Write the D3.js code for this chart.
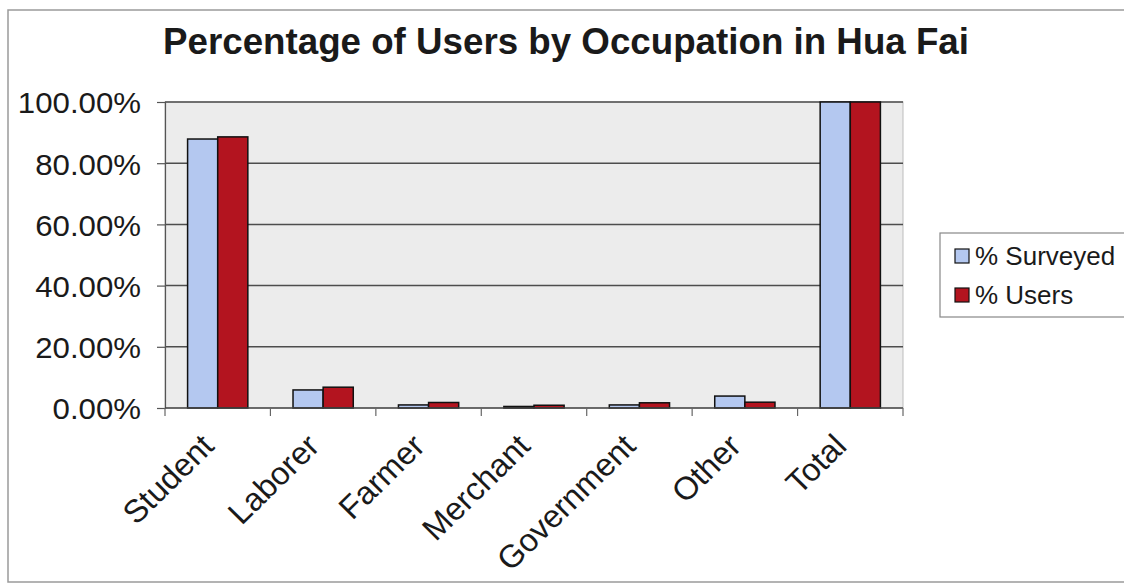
<!DOCTYPE html>
<html>
<head>
<meta charset="utf-8">
<script src="https://cdn.jsdelivr.net/npm/d3@7"></script>
<style>
  html, body { margin: 0; padding: 0; background: #fff; }
  svg { display: block; }
  text { font-family: "Liberation Sans", Arial, sans-serif; fill: #1a1a1a; }
</style>
</head>
<body>
<svg id="chart" width="1124" height="587"></svg>
<script>
// Occupation categories and the two percentage series
const categories = ["Student", "Laborer", "Farmer", "Merchant", "Government", "Other", "Total"];
const surveyed = [87.9, 5.9, 1.0, 0.5, 1.0, 3.9, 100.0];
const users = [88.6, 6.8, 1.8, 0.9, 1.7, 1.9, 100.0];
const seriesNames = ["% Surveyed", "% Users"];
const yTicks = [0, 20, 40, 60, 80, 100];

const colors = ["#b4c8f0", "#b3141f"];

const svg = d3.select("#chart");
const W = 1124, H = 587;
const plot = { left: 165, right: 903, top: 102, bottom: 408 };
const sx = 1.08; // horizontal text stretch for axis labels

// Outer chart frame
svg.append("rect")
  .attr("x", 8).attr("y", 10).attr("width", W + 4).attr("height", 572)
  .attr("fill", "#fff").attr("stroke", "#9a9a9a").attr("stroke-width", 1.5);

// Title
svg.append("text")
  .attr("transform", `translate(566,54) scale(1.02,1)`)
  .attr("text-anchor", "middle")
  .style("font-weight", "bold").style("font-size", "36px")
  .text("Percentage of Users by Occupation in Hua Fai");

const x0 = d3.scaleBand().domain(categories).range([plot.left, plot.right]).paddingInner(0).paddingOuter(0);
// Each bar takes 1/3.5 of a category (gap width 150%)
const barW = x0.bandwidth() / 3.5;
const y = d3.scaleLinear().domain([0, 100]).range([plot.bottom, plot.top]);

// Plot area background
svg.append("rect")
  .attr("x", plot.left).attr("y", plot.top)
  .attr("width", plot.right - plot.left).attr("height", plot.bottom - plot.top)
  .attr("fill", "#ececec").attr("stroke", "#bdbdbd").attr("stroke-width", 1);

// Horizontal gridlines
svg.append("g").selectAll("line").data(yTicks.slice(1)).join("line")
  .attr("x1", plot.left).attr("x2", plot.right)
  .attr("y1", d => y(d)).attr("y2", d => y(d))
  .attr("stroke", "#4d4d4d").attr("stroke-width", 1.5);

// Y axis
const yAxis = d3.axisLeft(y).tickValues(yTicks).tickSize(8).tickPadding(16)
  .tickFormat(d => d.toFixed(2) + "%");
const gy = svg.append("g").attr("transform", `translate(${plot.left},0)`).call(yAxis);
gy.select(".domain").attr("stroke", "#555").attr("stroke-width", 1.2);
gy.selectAll(".tick line").attr("stroke", "#555").attr("stroke-width", 1.2);
gy.selectAll(".tick text")
  .style("font-size", "30px").attr("fill", "#1a1a1a")
  .attr("dy", "0.36em")
  .each(function() {
    const t = d3.select(this);
    const xPos = +t.attr("x");
    t.attr("x", null).attr("transform", `translate(${xPos},0) scale(1.04,1)`);
  });

// Bars
const series = [surveyed, users];
const gBars = svg.append("g");
series.forEach((vals, si) => {
  gBars.append("g").selectAll("rect").data(categories).join("rect")
    .attr("x", c => x0(c) + barW * 0.75 + si * barW)
    .attr("y", (c, i) => y(vals[i]))
    .attr("width", barW)
    .attr("height", (c, i) => y(0) - y(vals[i]))
    .attr("fill", colors[si])
    .attr("stroke", "#111").attr("stroke-width", 1.5);
});

// X axis with ticks between categories
const gx = svg.append("g").attr("transform", `translate(0,${plot.bottom})`);
gx.append("line").attr("x1", plot.left).attr("x2", plot.right)
  .attr("stroke", "#444").attr("stroke-width", 1.5);
const boundaries = categories.map(c => x0(c)).concat([plot.right]);
gx.selectAll("line.tk").data(boundaries).join("line").attr("class", "tk")
  .attr("x1", d => d).attr("x2", d => d).attr("y1", 0).attr("y2", 8)
  .attr("stroke", "#666").attr("stroke-width", 1.2);
gx.selectAll("text").data(categories).join("text")
  .attr("transform", c => `translate(${x0(c) + x0.bandwidth() / 2 - 2},${40}) scale(1.02,1) rotate(-45)`)
  .attr("text-anchor", "end")
  .style("font-size", "32px")
  .text(c => c);

// Legend
const lg = svg.append("g");
lg.append("rect").attr("x", 940).attr("y", 233).attr("width", 200).attr("height", 84)
  .attr("fill", "#fff").attr("stroke", "#888").attr("stroke-width", 1.2);
seriesNames.forEach((name, i) => {
  const cy = 256 + i * 39;
  lg.append("rect").attr("x", 955).attr("y", cy - 7).attr("width", 14).attr("height", 14)
    .attr("fill", colors[i]).attr("stroke", "#111").attr("stroke-width", 1.2);
  lg.append("text")
    .attr("transform", `translate(975,${cy + 9})`)
    .style("font-size", "26px")
    .text(name);
});
</script>
</body>
</html>
